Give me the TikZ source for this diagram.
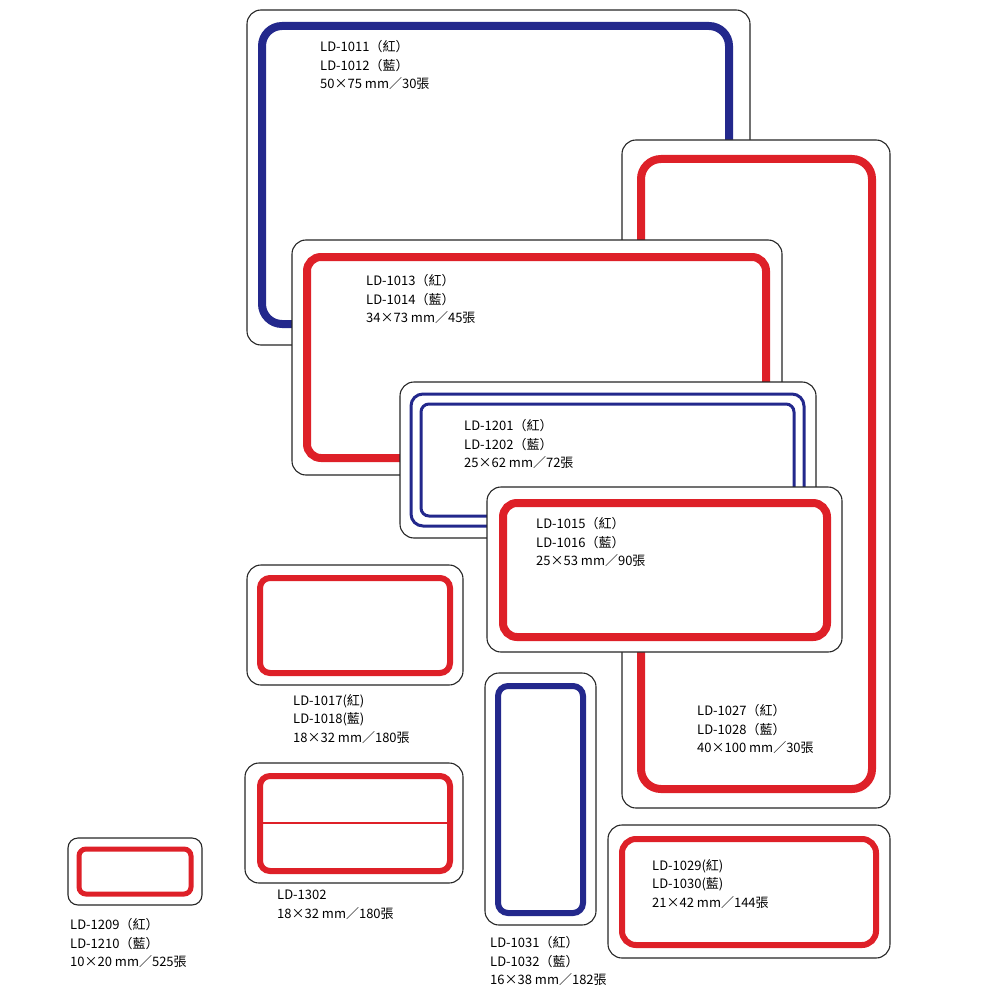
\documentclass[tikz,border=0pt]{standalone}
\usepackage{fontspec}
\setmainfont{Noto Sans CJK TC}
\definecolor{lblue}{RGB}{35,40,140}
\definecolor{lred}{RGB}{222,32,40}
\tikzset{
 outer/.style={draw=black!85,line width=1.1pt,fill=white,rounded corners=14pt},
 rin/.style={draw=lred,line width=8pt,rounded corners=14pt},
 bin/.style={draw=lblue,line width=8pt,rounded corners=14pt},
 txt/.style={anchor=north west,align=left,inner sep=0pt,font=\fontsize{13}{18.8}\selectfont}
}
\begin{document}
\begin{tikzpicture}[x=1pt,y=-1pt]
\useasboundingbox (0,0) rectangle (1000,1000);
% LD-1011
\draw[outer] (247,10) rectangle (750,345);
\draw[bin,rounded corners=20pt] (262,26) rectangle (729,324);
\node[txt] (t1) at (320,40) {LD-1011（紅）\\LD-1012（藍）\\50×75 mm／30張};
% LD-1027
\draw[outer] (622,140) rectangle (890,808);
\draw[rin,rounded corners=20pt] (641,159) rectangle (872,789);
% LD-1013
\draw[outer] (292,240) rectangle (782,475);
\draw[rin] (307,257) rectangle (766,458);
\node[txt] (t2) at (366,274) {LD-1013（紅）\\LD-1014（藍）\\34×73 mm／45張};
% LD-1201
\draw[outer] (400,382) rectangle (816,538);
\draw[draw=lblue,line width=3pt,rounded corners=12pt] (411,394) rectangle (804,526);
\draw[draw=lblue,line width=3pt,rounded corners=8pt] (421,404) rectangle (794,516);
\node[txt] (t3) at (464,419) {LD-1201（紅）\\LD-1202（藍）\\25×62 mm／72張};
% LD-1015
\draw[outer] (487,487) rectangle (842,652);
\draw[rin] (503,503) rectangle (827,637);
\node[txt] (t4) at (536,517) {LD-1015（紅）\\LD-1016（藍）\\25×53 mm／90張};
% LD-1017
\draw[outer] (247,565) rectangle (463,685);
\draw[rin,line width=6pt,rounded corners=10pt] (260,578) rectangle (450,673);
\node[txt] (t5) at (293,694) {LD-1017(紅)\\LD-1018(藍)\\18×32 mm／180張};
\node[txt] (t6) at (697,704) {LD-1027（紅）\\LD-1028（藍）\\40×100 mm／30張};
% LD-1031
\draw[outer] (485,673) rectangle (596,925);
\draw[bin,line width=6pt,rounded corners=10pt] (498,686) rectangle (583,913);
% LD-1302
\draw[outer] (245,763) rectangle (463,883);
\draw[rin,line width=6pt,rounded corners=10pt] (260,776) rectangle (450,871);
\draw[lred,line width=1.5pt] (260,823) -- (450,823);
\node[txt] (t7) at (277,890) {LD-1302\\18×32 mm／180張};
% LD-1209
\draw[outer,rounded corners=10pt] (68,838) rectangle (202,905);
\draw[rin,line width=5pt,rounded corners=7pt] (79,849) rectangle (191,894);
\node[txt] (t8) at (70,918) {LD-1209（紅）\\LD-1210（藍）\\10×20 mm／525張};
\node[txt] (t9) at (490,936) {LD-1031（紅）\\LD-1032（藍）\\16×38 mm／182張};
% LD-1029
\draw[outer] (608,825) rectangle (890,958);
\draw[rin,line width=6pt] (622,839) rectangle (876,945);
\node[txt] (t10) at (652,859) {LD-1029(紅)\\LD-1030(藍)\\21×42 mm／144張};
\end{tikzpicture}
\end{document}
